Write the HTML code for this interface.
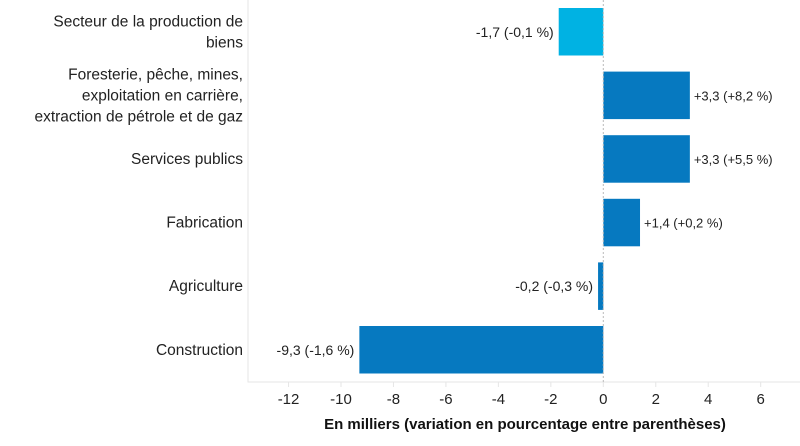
<!DOCTYPE html>
<html><head><meta charset="utf-8"><style>
body{margin:0;background:#fff;font-family:"Liberation Sans",sans-serif;}
svg text{font-family:"Liberation Sans",sans-serif;}
</style></head><body>
<svg id="chart" width="800" height="441" xmlns="http://www.w3.org/2000/svg"></svg>
<script>
const categories = [["Secteur de la production de","biens"],["Foresterie, pêche, mines,","exploitation en carrière,","extraction de pétrole et de gaz"],["Services publics"],["Fabrication"],["Agriculture"],["Construction"]];
const values = [-1.7, 3.3, 3.3, 1.4, -0.2, -9.3];
const valueLabels = ["-1,7 (-0,1 %)","+3,3 (+8,2 %)","+3,3 (+5,5 %)","+1,4 (+0,2 %)","-0,2 (-0,3 %)","-9,3 (-1,6 %)"];
const ticks = [-12,-10,-8,-6,-4,-2,0,2,4,6];
const tickLabels = ["-12","-10","-8","-6","-4","-2","0","2","4","6"];
const NS="http://www.w3.org/2000/svg";
const svg=document.getElementById('chart');
const x0=603.3, unit=26.23;
const xs=v=>x0+v*unit;
const rowTop=8, rowStep=63.6, barH=47.5;
const yc=i=>rowTop+i*rowStep+barH/2;
function mk(t,a){const e=document.createElementNS(NS,t);for(const k in a)e.setAttribute(k,a[k]);svg.appendChild(e);return e;}
let f=mk('path',{d:'M248,0 V382 H800',fill:'none',stroke:'#e6e6e6','stroke-width':1});


ticks.forEach((t,i)=>{
 const l=mk('line',{x1:xs(t),x2:xs(t),y1:382,y2:387,stroke:'#e6e6e6'});
 
 
 const tx=mk('text',{x:xs(t),y:404,'text-anchor':'middle','font-size':15,fill:'#222'});
 tx.textContent=tickLabels[i];
 
 
});
values.forEach((v,i)=>{
 const y=rowTop+i*rowStep;
 const r=mk('rect',{x:Math.min(xs(0),xs(v)),y:y,width:Math.abs(xs(v)-xs(0)),height:barH,fill:i===0?'#00b2e3':'#0679c0'});
 
 
 const lt=mk('text',{x:v<0?xs(v)-5:xs(v)+4,y:yc(i)+5,'text-anchor':v<0?'end':'start','font-size':v<0?14:13,fill:'#222'});
 lt.textContent=valueLabels[i];
 
 
 const lines=categories[i];
 lines.forEach((s,j)=>{
  const ct=mk('text',{x:243,y:yc(i)+5+(j-(lines.length-1)/2)*21,'text-anchor':'end','font-size':15.5,fill:'#222'});
  ct.textContent=s;
  
  
 });
});
let z=mk('line',{x1:xs(0),x2:xs(0),y1:0,y2:382,stroke:'#bbb','stroke-dasharray':'2,2'});


let at=mk('text',{x:525,y:429,'text-anchor':'middle','font-size':15,'font-weight':'bold',fill:'#111'});
at.textContent='En milliers (variation en pourcentage entre parenthèses)';


</script>
</body></html>
